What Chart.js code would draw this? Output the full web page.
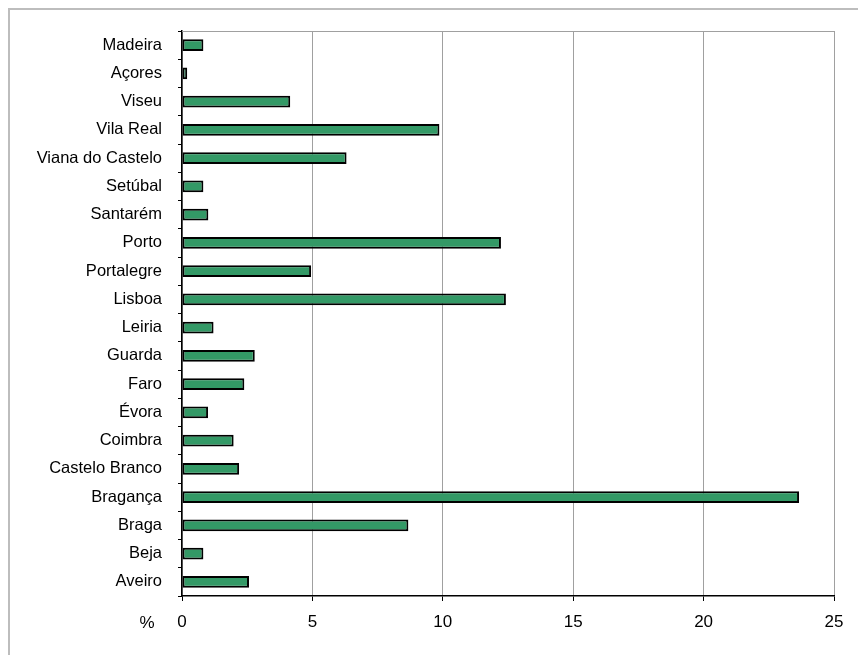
<!DOCTYPE html>
<html>
<head>
<meta charset="utf-8">
<script src="https://cdn.jsdelivr.net/npm/chart.js@4"></script>
<style>
  body { margin: 0; background: #fff; }
  #wrap { position: relative; width: 858px; height: 655px; overflow: hidden; }
  #frame { position: absolute; left: 8px; top: 8px; width: 900px; height: 700px;
           border-top: 2px solid #bdbdbd; border-left: 2px solid #bdbdbd; }
  canvas { position: absolute; left: 0; top: 0; }
</style>
</head>
<body>
<div id="wrap">
  <div id="frame"></div>
  <canvas id="canvas" width="858" height="655"></canvas>
</div>
<script>
// categories, top to bottom as in the picture
const districts = ['Madeira', 'Açores', 'Viseu', 'Vila Real', 'Viana do Castelo', 'Setúbal',
  'Santarém', 'Porto', 'Portalegre', 'Lisboa', 'Leiria', 'Guarda', 'Faro', 'Évora',
  'Coimbra', 'Castelo Branco', 'Bragança', 'Braga', 'Beja', 'Aveiro'];
// share in %
const percent = [0.82, 0.2, 4.15, 9.87, 6.31, 0.82,
  1.01, 12.23, 4.95, 12.42, 1.21, 2.79, 2.39, 1.0,
  1.98, 2.19, 23.66, 8.68, 0.82, 2.57];
// x axis
const xMin = 0;
const xMax = 25;
const xStep = 5;
const unitLabel = '%';

const FONT = "'Liberation Sans', Arial, sans-serif";

// top frame line + the "%" label next to the 0 tick
const extras = {
  id: 'extras',
  afterDraw(chart) {
    const c = chart.ctx, a = chart.chartArea;
    c.save();
    c.strokeStyle = '#a0a0a0';
    c.lineWidth = 1;
    c.beginPath();
    c.moveTo(a.left, a.top + 0.5);
    c.lineTo(a.right, a.top + 0.5);
    c.stroke();
    c.fillStyle = '#000';
    c.font = '17px ' + FONT;
    c.textAlign = 'center';
    c.textBaseline = 'middle';
    c.fillText(unitLabel, a.left - 35, a.bottom + 27);
    c.restore();
  }
};

const ctx = document.getElementById('canvas').getContext('2d');
const myChart = new Chart(ctx, {
  type: 'bar',
  data: {
    labels: districts,
    datasets: [{
      data: percent,
      backgroundColor: '#339966',
      borderColor: '#000',
      borderWidth: 2,
      borderSkipped: false,
      barPercentage: 0.42,
      categoryPercentage: 1
    }]
  },
  options: {
    indexAxis: 'y',
    responsive: false,
    animation: false,
    layout: { padding: { top: 31, right: 24, left: 0, bottom: 0 } },
    plugins: { legend: { display: false }, tooltip: { enabled: false } },
    scales: {
      x: {
        min: xMin, max: xMax,
        ticks: { stepSize: xStep, color: '#000', padding: 11, font: { family: FONT, size: 17 } },
        grid: { color: '#a0a0a0', lineWidth: 1, tickLength: 5, tickColor: '#000' },
        border: { color: '#000', width: 1.5 },
        afterFit(s) { s.height = 59; }
      },
      y: {
        ticks: { color: '#000', padding: 16, font: { family: FONT, size: 16.5 } },
        grid: { drawOnChartArea: false, tickLength: 4, tickColor: '#000' },
        border: { color: '#000', width: 1.5 },
        afterFit(s) { s.width = 182; }
      }
    }
  },
  plugins: [extras]
});
</script>
</body>
</html>
